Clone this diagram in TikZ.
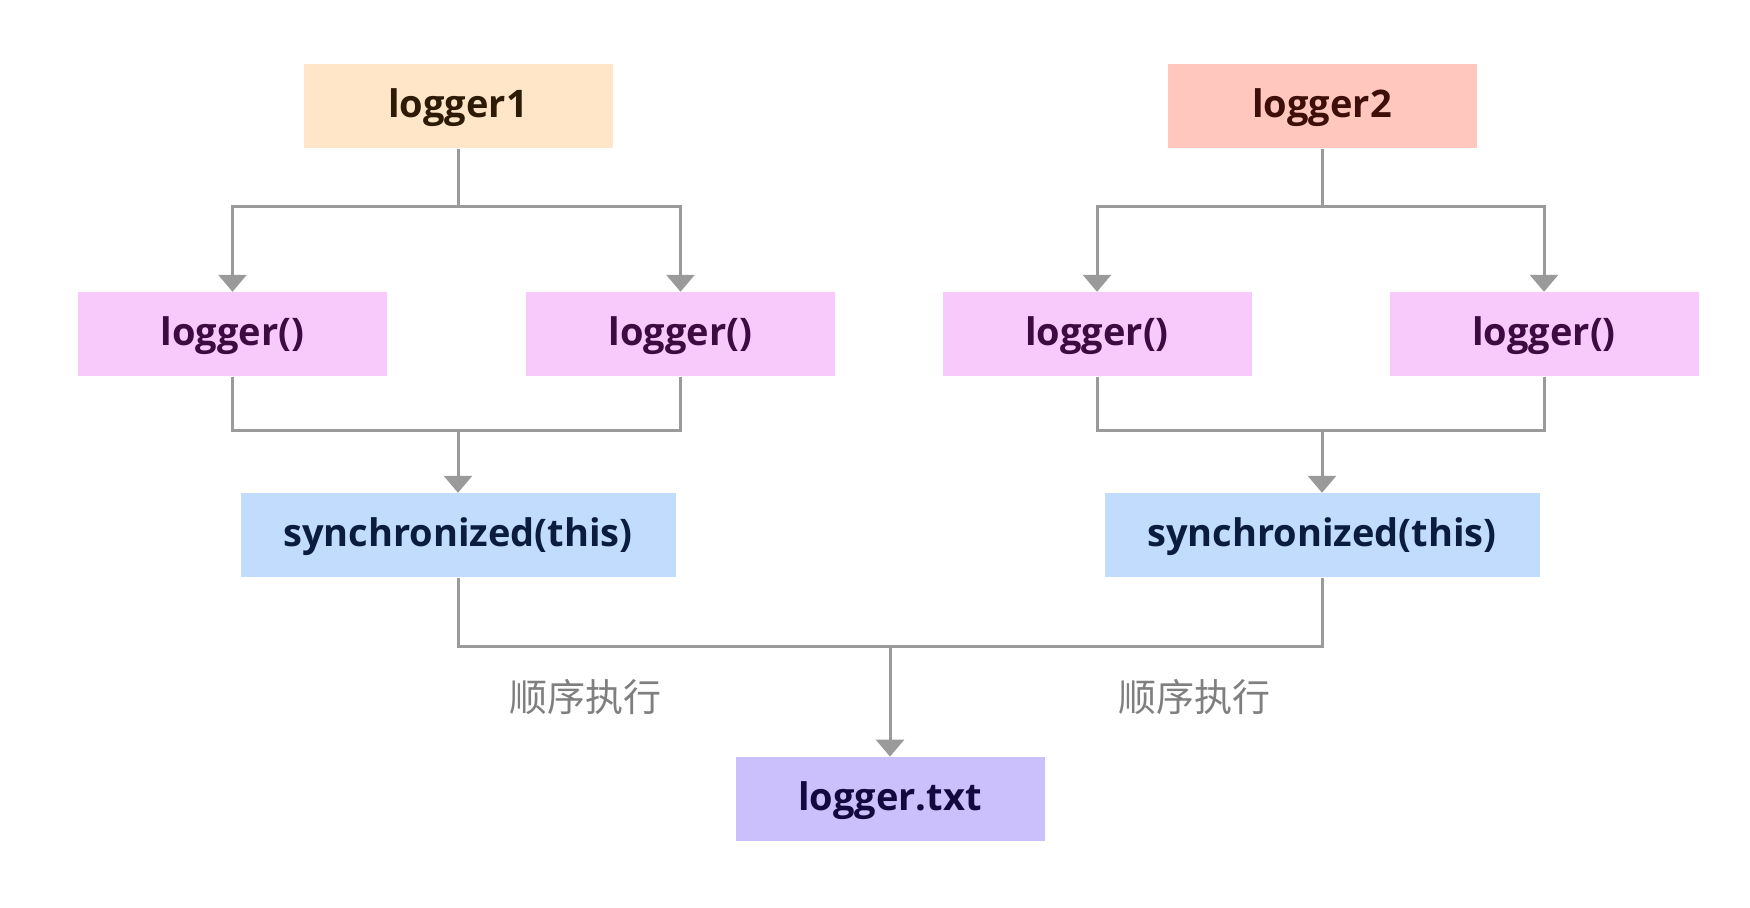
\documentclass[tikz,border=0pt]{standalone}
\usepackage{fontspec}
\setmainfont{Open Sans}
\newfontfamily\cjk{Noto Sans CJK SC}
\usetikzlibrary{arrows.meta}
\definecolor{linegray}{HTML}{9A9A9A}
\definecolor{peach}{HTML}{FFE6C9}
\definecolor{salmon}{HTML}{FFC7BE}
\definecolor{pink}{HTML}{F8C9FB}
\definecolor{skyb}{HTML}{C2DCFE}
\definecolor{lilac}{HTML}{CBC0FC}
\definecolor{tpeach}{HTML}{2E1B06}
\definecolor{tsalmon}{HTML}{3E0E08}
\definecolor{tpink}{HTML}{3E0A42}
\definecolor{tsky}{HTML}{0B1D3E}
\definecolor{tlilac}{HTML}{14093F}
\definecolor{labelgray}{HTML}{7F7F7F}
\begin{document}
\begin{tikzpicture}[x=0.5pt,y=-0.5pt,
  box/.style={rectangle,inner sep=0pt,minimum width=154.5pt,minimum height=42pt,text height=15.8pt,text depth=4.6pt,font=\bfseries\fontsize{19}{22}\selectfont},
  widebox/.style={box,minimum width=217.5pt},
  conn/.style={draw=linegray,line width=1.5pt,line join=miter},
  arr/.style={conn,-{Triangle[length=8.5pt,width=14pt]}},
  lbl/.style={font=\cjk\fontsize{19}{22}\selectfont,text=labelgray}]
\useasboundingbox[fill=white] (0,0) rectangle (1750,908);
\node[box,fill=peach,text=tpeach] (l1) at (458,106.3) {logger1};
\node[box,fill=salmon,text=tsalmon] (l2) at (1322,106.3) {logger2};
\node[box,fill=pink,text=tpink] (a) at (232.5,334.2) {logger()};
\node[box,fill=pink,text=tpink] (b) at (680.5,334.2) {logger()};
\node[box,fill=pink,text=tpink] (c) at (1097,334.2) {logger()};
\node[box,fill=pink,text=tpink] (d) at (1544,334.2) {logger()};
\node[widebox,fill=skyb,text=tsky] (s1) at (458,535.2) {synchronized(this)};
\node[widebox,fill=skyb,text=tsky] (s2) at (1322,535.2) {synchronized(this)};
\node[box,fill=lilac,text=tlilac] (t) at (890,799) {logger.txt};
\node[lbl] (lab1) at (585,697.5) {顺序执行};
\node[lbl] (lab2) at (1194,697.5) {顺序执行};
\coordinate (j1) at (458,206.7);
\coordinate (j2) at (1322,206.7);
\coordinate (m1) at (458,431);
\coordinate (m2) at (1322,431);
\coordinate (m3) at (890,646.7);
% logger1 split
\draw[conn] (l1.south) -- (j1);
\draw[arr] (j1) -| (a.north);
\draw[arr] (j1) -| (b.north);
\draw[conn] (l2.south) -- (j2);
\draw[arr] (j2) -| (c.north);
\draw[arr] (j2) -| (d.north);
% merges
\draw[conn] (a.south) |- (m1) -| (b.south);
\draw[arr] (m1) -- (s1.north);
\draw[conn] (c.south) |- (m2) -| (d.south);
\draw[arr] (m2) -- (s2.north);
\draw[conn] (s1.south) |- (m3) -| (s2.south);
\draw[arr] (m3) -- (t.north);
\end{tikzpicture}
\end{document}
